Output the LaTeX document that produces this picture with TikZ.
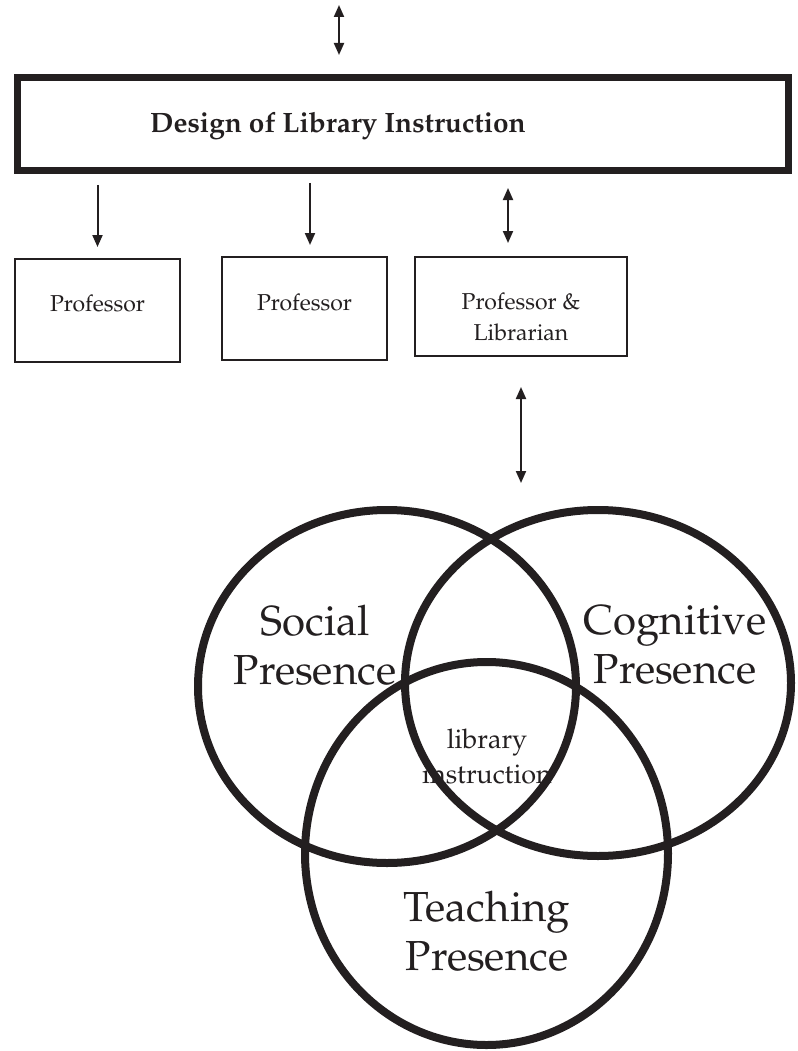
\documentclass[tikz,border=0pt]{standalone}
\usepackage[T1]{fontenc}
\usepackage{mathpazo}
\usepackage{xcolor}
\usetikzlibrary{arrows.meta, shapes.geometric}

\definecolor{ink}{RGB}{35,31,32}

\begin{document}
\begin{tikzpicture}[x=1pt, y=-1pt, ink,
  bigbox/.style={draw, line width=7pt, minimum width=771pt,
                 minimum height=93pt, inner sep=0pt},
  pbox/.style={draw, line width=2pt, inner sep=0pt},
  ring/.style={draw, ellipse, line width=8pt, inner sep=0pt},
  lbl/.style={align=center, font=\fontsize{23}{31}\selectfont},
  mid/.style={align=center, font=\fontsize{27}{35}\selectfont},
  big/.style={align=center, font=\fontsize{42}{49}\selectfont},
  arr/.style={line width=2pt},
  >={Triangle[length=12pt, width=10pt]}]
\useasboundingbox (0,0) rectangle (797,1051);

% design box
\node[bigbox] (design) at (402.5,124.5) {};
\node[font=\bfseries\fontsize{28}{34}\selectfont] (title) at (338,126)
  {Design of Library Instruction};
\coordinate (in) at (339,5);
\draw[arr, <->, shorten >=19.5pt] (in) -- (design.north -| in);

% who designs
\node[pbox, minimum width=165pt, minimum height=103pt] (p1) at (97.5,310.5) {};
\node[pbox, minimum width=165pt, minimum height=103pt] (p2) at (304.5,308.5) {};
\node[pbox, minimum width=212pt, minimum height=99pt] (p3) at (521,306.5) {};
\node[lbl] (p1text) at ([yshift=7.5pt]p1.center) {Professor};
\node[lbl] (p2text) at ([yshift=6.5pt]p2.center) {Professor};
\node[lbl] (p3text) at ([yshift=-10.5pt]p3.center) {Professor \&\\Librarian};

\coordinate (a2) at ([xshift=5.5pt]p2.north);
\coordinate (a3) at ([xshift=-13pt]p3.north);
\draw[arr, ->, shorten <=10.5pt, shorten >=11pt] (design.south -| p1.north) -- (p1.north);
\draw[arr, ->, shorten <=8.5pt, shorten >=11pt] (design.south -| a2) -- (a2);
\draw[arr, <->, shorten <=13.5pt, shorten >=13pt] (design.south -| a3) -- (a3);

% presences
\node[ring, minimum width=378pt, minimum height=353pt] (social) at (387,686.5) {};
\node[ring, minimum width=386pt, minimum height=346pt] (cognitive) at (598,683) {};
\node[ring, minimum width=363pt, minimum height=383pt] (teaching) at (486.5,853.5) {};

\draw[arr, <->, shorten <=30pt, shorten >=23pt] (p3.south) -- (p3.south |- cognitive.north);

\node[big] (socialtext) at (315,645) {Social\\Presence};
\node[big] (cogtext) at (675,645) {Cognitive\\Presence};
\node[big] (teachtext) at (487,931) {Teaching\\Presence};
\node[mid] (libtext) at (487,757) {library\\instruction};
\end{tikzpicture}
\end{document}
